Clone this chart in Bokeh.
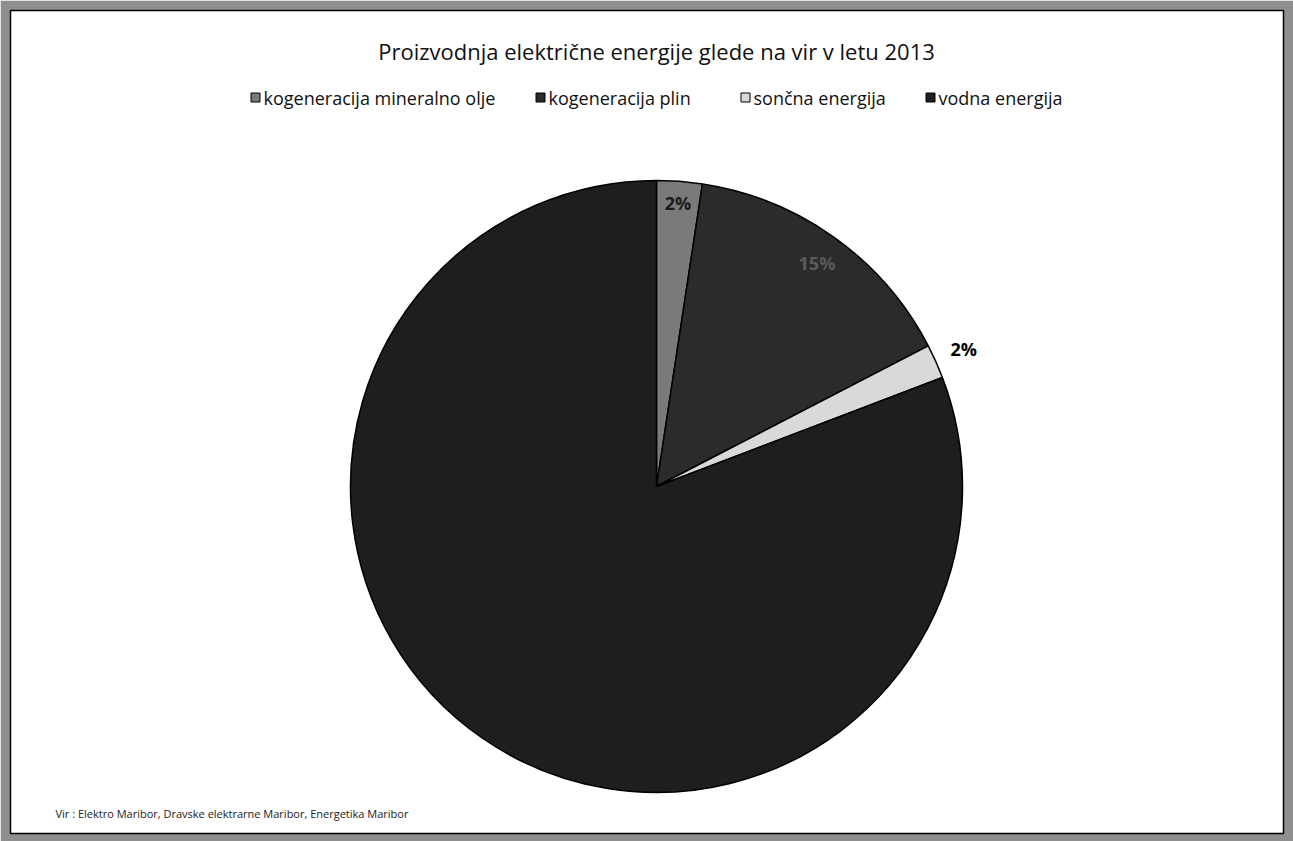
import math
from bokeh.plotting import figure
from bokeh.models import Range1d, ColumnDataSource
from bokeh.core.properties import value
from bokeh.embed import file_html
from bokeh.resources import INLINE

# ---- data ----
categories = ["kogeneracija mineralno olje", "kogeneracija plin", "sončna energija", "vodna energija"]
shares = [2.4, 15.0, 1.8, 80.8]
title_text = "Proizvodnja električne energije glede na vir v letu 2013"
source_text = "Vir : Elektro Maribor, Dravske elektrarne Maribor, Energetika Maribor"

# ---- styles ----
colors = ["#7a7a7a", "#2b2b2b", "#d9d9d9", "#1e1e1e"]
label_colors = ["#1a1a1a", "#5a5a5a", "#000000", None]
label_radius_factor = [0.93, 0.90, 1.10, None]
legend_x = [255, 540, 745, 930]

W, H = 1293, 841
cx, cy, r = 656, H - 486, 306

p = figure(width=W, height=H, output_backend="svg", toolbar_location=None,
           x_range=Range1d(10, W - 10), y_range=Range1d(H - 833, H - 10),
           min_border_left=10, min_border_right=10, min_border_top=10, min_border_bottom=8)
p.axis.visible = False
p.grid.visible = False
p.border_fill_color = "#8f8f8f"
p.background_fill_color = "white"
p.outline_line_color = "#000000"
p.outline_line_width = 1.5

total = sum(shares)
starts, ends, mids = [], [], []
cum = 0.0
for v in shares:
    a0 = math.pi / 2 - 2 * math.pi * cum / total
    cum += v
    a1 = math.pi / 2 - 2 * math.pi * cum / total
    starts.append(a0)
    ends.append(a1)
    mids.append((a0 + a1) / 2)

src = ColumnDataSource(dict(start=starts, end=ends, color=colors, cat=categories))
p.wedge(x=cx, y=cy, radius=r, start_angle="start", end_angle="end", direction="clock",
        fill_color="color", line_color="black", line_width=1.5, source=src)

# percentage labels
lx, ly, lt, lc = [], [], [], []
for i, v in enumerate(shares):
    if label_radius_factor[i] is None:
        continue
    rr = r * label_radius_factor[i]
    lx.append(cx + rr * math.cos(mids[i]))
    ly.append(cy + rr * math.sin(mids[i]))
    lt.append(f"{round(v)}%")
    lc.append(label_colors[i])
p.text(x=lx, y=ly, text=lt, text_color=lc, text_font=value("Open Sans"),
       text_font_size="18px", text_font_style="bold", text_align="center", text_baseline="middle")

# title
p.text(x=[cx], y=[H - 50], text=[title_text], text_font=value("Open Sans"),
       text_font_size="22px", text_color="#111111", text_align="center", text_baseline="middle")

# legend
leg_y = H - 97
p.scatter(x=legend_x, y=[leg_y] * 4, marker="square", size=9, fill_color=colors,
          line_color="black", line_width=1)
p.text(x=[x + 8 for x in legend_x], y=[leg_y] * 4, text=categories, text_font=value("Open Sans"),
       text_font_size="18px", text_color="#111111", text_align="left", text_baseline="middle")

# source note
p.text(x=[55], y=[H - 813], text=[source_text], text_font=value("Open Sans"),
       text_font_size="11px", text_color="#222222", text_align="left", text_baseline="middle")

open("out.html", "w").write(file_html(p, INLINE))
